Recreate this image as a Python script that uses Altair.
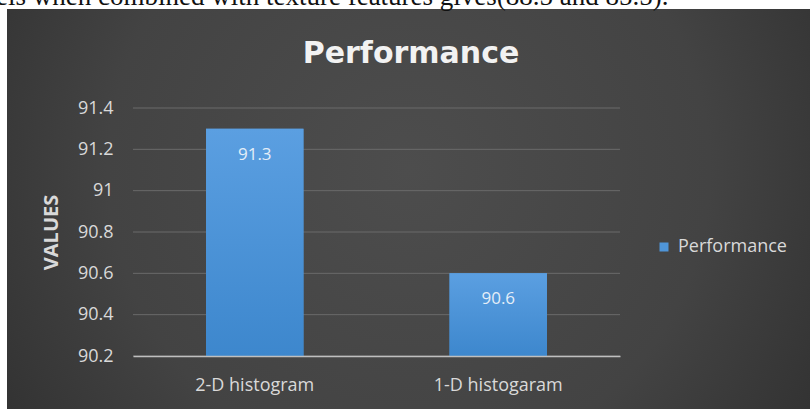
import altair as alt
import pandas as pd

# ---- data ----
categories = ["2-D histogram", "1-D histogaram"]
values = [91.3, 90.6]
series_name = ["Performance", "Performance"]
y_ticks = [90.2, 90.4, 90.6, 90.8, 91.0, 91.2, 91.4]
chart_title = "Performance"
axis_title = "VALUES"
caption_text = "els when combined with texture features gives(88.5 and 85.5)."

df = pd.DataFrame({"category": categories, "value": values, "series": series_name})
ticks_df = pd.DataFrame({"tick": y_ticks})
one = pd.DataFrame({"k": [0]})

W, H = 487, 248
PAD = {"left": 133, "top": 108, "right": 190, "bottom": 53}
LABEL_FONT = "Open Sans"

x_enc = alt.X(
    "category:N",
    sort=categories,
    scale=alt.Scale(paddingInner=0.6, paddingOuter=0.3),
    axis=alt.Axis(
        title=None, labelAngle=0, ticks=False, labelPadding=20,
        labelFontSize=18, labelColor="#d9d9d9", labelFont=LABEL_FONT,
        domainColor="#bfbfbf", domainWidth=1.5, zindex=1,
    ),
)
y_scale = alt.Scale(domain=[y_ticks[0], y_ticks[-1]], zero=False, nice=False)
y_enc = alt.Y(
    "value:Q",
    scale=y_scale,
    axis=alt.Axis(
        title=axis_title, values=y_ticks, grid=False, domain=False, ticks=False,
        labelPadding=20, labelFontSize=18, labelColor="#d9d9d9", labelFont=LABEL_FONT,
        labelExpr="format(datum.value, '~g')",
        titleFont=LABEL_FONT, titleFontSize=20, titleFontWeight="bold", titleColor="#d9d9d9",
        titleX=-82, titleY=H / 2, titleAngle=270, titleAlign="center", titleBaseline="middle",
        zindex=1,
    ),
)

bg = alt.Chart(one).mark_rect(
    fill=alt.Gradient(
        gradient="radial",
        stops=[
            alt.GradientStop(color="#4d4d4d", offset=0),
            alt.GradientStop(color="#434343", offset=0.5),
            alt.GradientStop(color="#262626", offset=1),
        ],
        x1=0.5, y1=0.45, r1=0, x2=0.5, y2=0.45, r2=0.75,
    ),
).encode(x=alt.value(-126), x2=alt.value(677), y=alt.value(-99), y2=alt.value(301))

caption = alt.Chart(one).mark_text(
    font="Liberation Serif", fontSize=27, color="#111111", align="left", baseline="alphabetic",
).encode(x=alt.value(-137), y=alt.value(-103), text=alt.value(caption_text))

title_mark = alt.Chart(one).mark_text(
    font="DejaVu Sans", fontSize=30, fontWeight="bold", color="#f2f2f2",
    align="center", baseline="alphabetic",
).encode(x=alt.value(278), y=alt.value(-45), text=alt.value(chart_title))

grid = alt.Chart(ticks_df).mark_rule(color="#6a6a6a", strokeWidth=1).encode(
    y=alt.Y("tick:Q", scale=y_scale)
)

bars_legend = alt.Chart(df).mark_bar().encode(
    x=x_enc,
    y=y_enc,
    y2=alt.datum(y_ticks[0]),
    color=alt.Color(
        "series:N",
        scale=alt.Scale(range=["#4f95d8"]),
        legend=alt.Legend(
            title=None, orient="none", legendX=522, legendY=130,
            symbolType="square", symbolSize=81, symbolStrokeWidth=0,
            labelFontSize=18, labelColor="#d9d9d9", labelFont=LABEL_FONT,
            labelOffset=5, zindex=1,
        ),
    ),
)

bars = alt.Chart(df).mark_bar(
    fill=alt.Gradient(
        gradient="linear",
        stops=[
            alt.GradientStop(color="#5b9fe1", offset=0),
            alt.GradientStop(color="#3d87cd", offset=1),
        ],
        x1=0, y1=0, x2=0, y2=1,
    )
).encode(x=alt.X("category:N", sort=categories), y=alt.Y("value:Q"), y2=alt.datum(y_ticks[0]))

labels = alt.Chart(df).mark_text(
    baseline="middle", dy=26, fontSize=17, color="#e4eef8", font=LABEL_FONT
).encode(x=alt.X("category:N", sort=categories), y=alt.Y("value:Q"), text=alt.Text("value:Q"))

chart = (
    alt.layer(bg, caption, title_mark, grid, bars_legend, bars, labels)
    .properties(
        width=W,
        height=H,
        autosize="none",
        padding=PAD,
        background="#ffffff",
    )
    .configure_view(stroke=None)
)

chart.save("out.html", embed_options={"renderer": "svg", "actions": False})
